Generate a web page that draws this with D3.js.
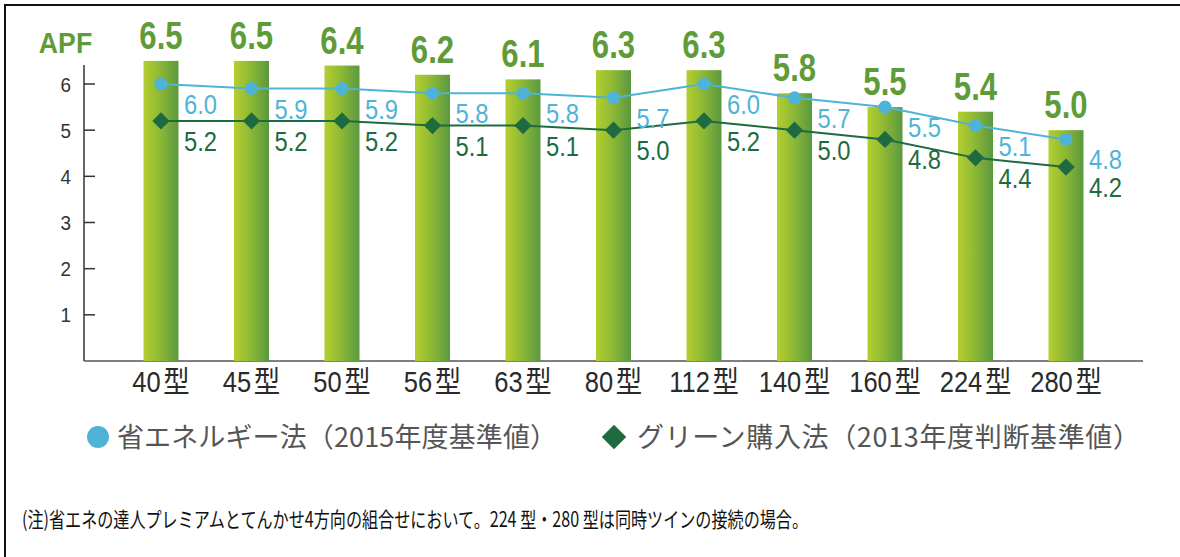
<!DOCTYPE html>
<html>
<head>
<meta charset="utf-8">
<script src="https://cdn.jsdelivr.net/npm/d3@7"></script>
<style>
  html, body { margin: 0; padding: 0; background: #fff; }
  svg { display: block; }
</style>
</head>
<body>
<script>
// ---- data ----
const categories = ["40", "45", "50", "56", "63", "80", "112", "140", "160", "224", "280"];
const categorySuffix = "型";
const barValues   = [6.5, 6.5, 6.4, 6.2, 6.1, 6.3, 6.3, 5.8, 5.5, 5.4, 5.0];
const energyLaw   = [6.0, 5.9, 5.9, 5.8, 5.8, 5.7, 6.0, 5.7, 5.5, 5.1, 4.8];
const greenLaw    = [5.2, 5.2, 5.2, 5.1, 5.1, 5.0, 5.2, 5.0, 4.8, 4.4, 4.2];
const yTicks      = [1, 2, 3, 4, 5, 6];
const yLabel      = "APF";
const legendNames = ["省エネルギー法（2015年度基準値）", "グリーン購入法（2013年度判断基準値）"];
const noteText    = "(注)省エネの達人プレミアムとてんかせ4方向の組合せにおいて。224 型・280 型は同時ツインの接続の場合。";

// ---- layout ----
const W = 1180, H = 557;
const NUM_FONT = "'Liberation Sans', Arial, sans-serif";
const JP_FONT = "'Noto Sans CJK JP', sans-serif";
const C_BAR_LABEL = "#5f9c39";
const C_BLUE = "#4fb3d8";
const C_DGREEN = "#1e6b42";

const svg = d3.select("body").append("svg").attr("width", W).attr("height", H);

// frame (top + left)
svg.append("line").attr("x1", 4).attr("x2", W).attr("y1", 5).attr("y2", 5)
  .attr("stroke", "#111").attr("stroke-width", 2);
svg.append("line").attr("x1", 5).attr("x2", 5).attr("y1", 4).attr("y2", H)
  .attr("stroke", "#111").attr("stroke-width", 2);

const defs = svg.append("defs");
const grad = defs.append("linearGradient").attr("id", "barGrad")
  .attr("x1", "0%").attr("x2", "100%").attr("y1", "0%").attr("y2", "0%");
grad.append("stop").attr("offset", "0%").attr("stop-color", "#b4ce2f");
grad.append("stop").attr("offset", "45%").attr("stop-color", "#8fba35");
grad.append("stop").attr("offset", "100%").attr("stop-color", "#5a9840");

const x = d3.scalePoint().domain(categories).range([161, 1066]);
const BAR_W = 35;
const y = d3.scaleLinear().domain([0, 6]).range([361, 84]);

// helper for horizontally condensed text
function place(sel, fx, fy, sx) {
  return sel.attr("transform", (d, i) => `translate(${fx(d, i)},${fy(d, i)}) scale(${sx},1)`);
}

// axes
svg.append("line").attr("x1", 84).attr("x2", 84).attr("y1", 65).attr("y2", y(0))
  .attr("stroke", "#333").attr("stroke-width", 1.5);
svg.append("line").attr("x1", 84).attr("x2", 1143).attr("y1", y(0)).attr("y2", y(0))
  .attr("stroke", "#555").attr("stroke-width", 1.5);

const yAxis = svg.append("g");
yAxis.selectAll("line").data(yTicks).join("line")
  .attr("x1", 84).attr("x2", 95).attr("y1", d => y(d)).attr("y2", d => y(d))
  .attr("stroke", "#333").attr("stroke-width", 1.5);
place(yAxis.selectAll("text").data(yTicks).join("text"), () => 71, d => y(d) + 7.5, 0.9)
  .attr("text-anchor", "end")
  .attr("font-family", NUM_FONT).attr("font-size", 21).attr("fill", "#333")
  .text(d => d);

place(svg.append("text").datum(yLabel), () => 65.5, () => 53, 0.92)
  .attr("text-anchor", "middle")
  .attr("font-family", NUM_FONT).attr("font-weight", "bold").attr("font-size", 29)
  .attr("fill", C_BAR_LABEL).text(yLabel);

// bars
svg.append("g").selectAll("rect").data(barValues).join("rect")
  .attr("x", (d, i) => x(categories[i]) - BAR_W / 2)
  .attr("width", BAR_W)
  .attr("y", d => y(d))
  .attr("height", d => y(0) - y(d))
  .attr("fill", "url(#barGrad)");

place(svg.append("g").selectAll("text").data(barValues).join("text"),
    (d, i) => x(categories[i]), d => y(d) - 12, 0.82)
  .attr("text-anchor", "middle")
  .attr("font-family", NUM_FONT).attr("font-weight", "bold").attr("font-size", 38)
  .attr("fill", C_BAR_LABEL)
  .text(d => d.toFixed(1));

const cx = (i) => x(categories[i]);

// lines
const line = d3.line().x((d, i) => cx(i)).y(d => y(d));
svg.append("path").datum(greenLaw).attr("d", line)
  .attr("fill", "none").attr("stroke", C_DGREEN).attr("stroke-width", 2);
svg.append("path").datum(energyLaw).attr("d", line)
  .attr("fill", "none").attr("stroke", C_BLUE).attr("stroke-width", 2);

svg.append("g").selectAll("path").data(greenLaw).join("path")
  .attr("d", d3.symbol(d3.symbolSquare, 150)())
  .attr("transform", (d, i) => `translate(${cx(i)},${y(d)}) rotate(45)`)
  .attr("fill", C_DGREEN);
svg.append("g").selectAll("circle").data(energyLaw).join("circle")
  .attr("cx", (d, i) => cx(i)).attr("cy", d => y(d)).attr("r", 6.5)
  .attr("fill", C_BLUE);

place(svg.append("g").selectAll("text").data(energyLaw).join("text"),
    (d, i) => cx(i) + 23, d => y(d) + 30, 0.88)
  .attr("font-family", NUM_FONT).attr("font-size", 27).attr("fill", C_BLUE)
  .text(d => d.toFixed(1));
place(svg.append("g").selectAll("text").data(greenLaw).join("text"),
    (d, i) => cx(i) + 23, d => y(d) + 30, 0.88)
  .attr("font-family", NUM_FONT).attr("font-size", 27).attr("fill", C_DGREEN)
  .text(d => d.toFixed(1));

// x labels
const xl = place(svg.append("g").selectAll("text").data(categories).join("text"),
    d => x(d), () => 392, 0.88)
  .attr("text-anchor", "middle")
  .attr("font-family", NUM_FONT).attr("font-size", 29).attr("fill", "#2a2a2a");
xl.append("tspan").text(d => d);
xl.append("tspan").attr("dx", 3).attr("font-family", JP_FONT).attr("font-size", 30).text(categorySuffix);

// legend
svg.append("circle").attr("cx", 98).attr("cy", 437).attr("r", 11).attr("fill", C_BLUE);
svg.append("text").attr("x", 117).attr("y", 447)
  .attr("font-family", JP_FONT).attr("font-size", 27).attr("fill", "#555")
  .attr("textLength", 440).attr("lengthAdjust", "spacing")
  .text(legendNames[0]);
svg.append("path").attr("d", d3.symbol(d3.symbolSquare, 300)())
  .attr("transform", "translate(614,437) rotate(45)").attr("fill", C_DGREEN);
svg.append("text").attr("x", 637).attr("y", 447)
  .attr("font-family", JP_FONT).attr("font-size", 27).attr("fill", "#555")
  .attr("textLength", 503).attr("lengthAdjust", "spacing")
  .text(legendNames[1]);

// note
svg.append("text").attr("x", 22).attr("y", 527)
  .attr("font-family", JP_FONT).attr("font-size", 21).attr("fill", "#111")
  .attr("textLength", 786).attr("lengthAdjust", "spacingAndGlyphs")
  .text(noteText);
</script>
</body>
</html>
